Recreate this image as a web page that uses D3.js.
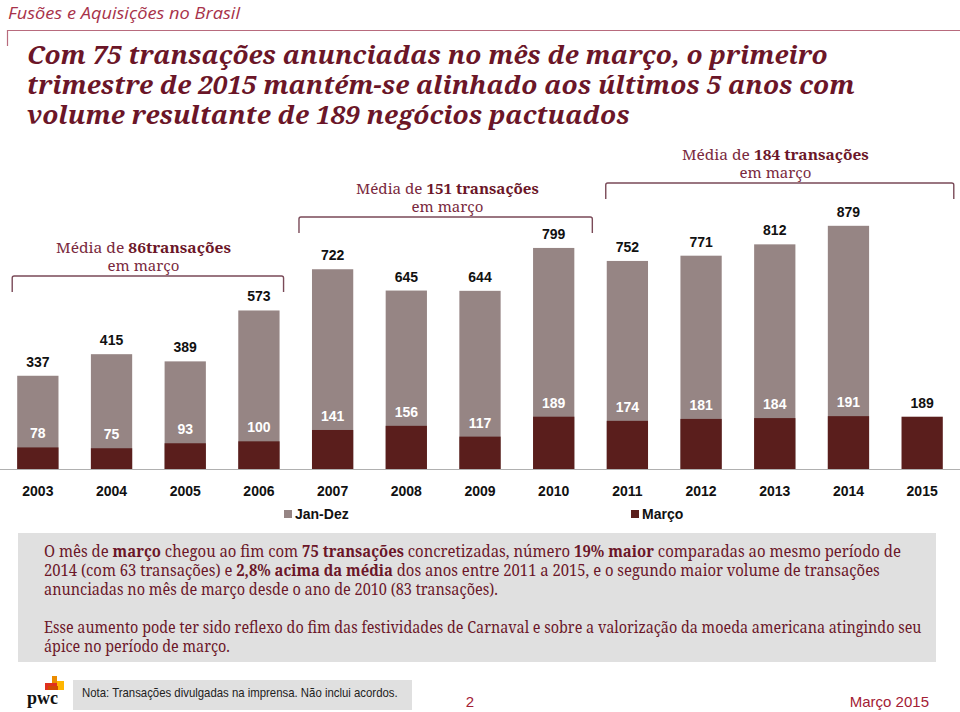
<!DOCTYPE html>
<html><head><meta charset="utf-8">
<script src="https://cdn.jsdelivr.net/npm/d3@7"></script>
<style>
html,body{margin:0;padding:0;background:#fff;}
svg{display:block;}
.serif{font-family:"Noto Serif","Liberation Serif",serif;}
</style></head>
<body>
<svg id="chart" width="960" height="712"></svg>
<script>
const years = ["2003","2004","2005","2006","2007","2008","2009","2010","2011","2012","2013","2014","2015"];
const janDez = [337,415,389,573,722,645,644,799,752,771,812,879,null];
const marco = [78,75,93,100,141,156,117,189,174,181,184,191,189];
const seriesNames = ["Jan-Dez","Março"];
const groupStart = ["2003","2007","2011"];
const groupEnd = ["2006","2010","2015"];
const groupAvg = ["86","151","184"];
const groupAvgSuffix = ["transações"," transações"," transações"];

const svg = d3.select("#chart");
const C = {gray:"#968584", dark:"#5a1e1c", maroon:"#6b1628", title:"#6b1628", header:"#a8324a"};

function fitX(sel, x, y, target){
  const w = sel.node().getComputedTextLength();
  const s = target / w;
  sel.attr("x",0).attr("y",0).attr("transform",`translate(${x},${y}) scale(${s},1)`);
}

// Header
const hdr = svg.append("text").attr("font-family","Open Sans").attr("font-style","italic")
  .attr("font-size",17).attr("fill",C.header).text("Fusões e Aquisições no Brasil");
fitX(hdr, 8, 19, 232);
svg.append("path").attr("d","M7.5,46 V30.5 H960").attr("fill","none").attr("stroke","#b86b7d").attr("stroke-width",1.2);

// Title
const titleLines = ["Com 75 transações anunciadas no mês de março, o primeiro",
  "trimestre de 2015 mantém-se alinhado aos últimos 5 anos com",
  "volume resultante de 189 negócios pactuados"];
const titleW = [801, 828, 603];
const titleY = [64, 94, 124];
titleLines.forEach((t,i)=>{
  const el = svg.append("text").attr("class","serif").attr("font-weight","bold")
    .attr("font-style","italic").attr("font-size",25).attr("fill",C.title).text(t);
  fitX(el, 27, titleY[i], titleW[i]);
});

// Scales
const x = d3.scaleBand().domain(years).range([1,959]).paddingInner(0.44).paddingOuter(0.22);
const y = d3.scaleLinear().domain([0,900]).range([469,220]);
const bw = x.bandwidth();

const data = years.map((yr,i)=>({year:yr, jd:janDez[i], m:marco[i]}));

const g = svg.append("g");
g.selectAll("rect.jd").data(data.filter(d=>d.jd!=null)).join("rect")
  .attr("x",d=>x(d.year)).attr("width",bw)
  .attr("y",d=>y(d.jd)).attr("height",d=>y(0)-y(d.jd)).attr("fill",C.gray);
g.selectAll("rect.m").data(data).join("rect")
  .attr("x",d=>x(d.year)).attr("width",bw)
  .attr("y",d=>y(d.m)).attr("height",d=>y(0)-y(d.m)).attr("fill",C.dark);

const lblFont = "Liberation Sans";
g.selectAll("text.jd").data(data.filter(d=>d.jd!=null)).join("text")
  .attr("x",d=>x(d.year)+bw/2).attr("y",d=>y(d.jd)-9)
  .attr("text-anchor","middle").attr("font-family",lblFont).attr("font-weight","bold")
  .attr("font-size",14).attr("fill","#111").text(d=>d.jd);
g.selectAll("text.m").data(data).join("text")
  .attr("x",d=>x(d.year)+bw/2).attr("y",d=>y(d.m)-9)
  .attr("text-anchor","middle").attr("font-family",lblFont).attr("font-weight","bold")
  .attr("font-size",14).attr("fill",d=>d.jd==null?"#111":"#fff").text(d=>d.m);

// Axis
const axis = d3.axisBottom(x).tickSize(0).tickPadding(17);
const ax = svg.append("g").attr("transform",`translate(0,${y(0)})`).call(axis);
ax.select(".domain").remove();
svg.append("line").attr("x1",0).attr("x2",960).attr("y1",y(0)+0.5).attr("y2",y(0)+0.5).attr("stroke","#b0b0b0").attr("stroke-width",1.2);
ax.selectAll("text").attr("font-family",lblFont).attr("font-weight","bold").attr("font-size",14).attr("fill","#111");

// Legend
const legX = [284, 631];
seriesNames.forEach((n,i)=>{
  svg.append("rect").attr("x",legX[i]).attr("y",510).attr("width",8).attr("height",8).attr("fill",i?C.dark:C.gray);
  svg.append("text").attr("x",legX[i]+11).attr("y",519).attr("font-family",lblFont).attr("font-weight","bold")
    .attr("font-size",14).attr("fill","#111").text(n);
});

// Brackets
const brOff = [[-5,4],[-13,18],[-1,11]];
const brY = [276, 217, 183];
const txtCx = [143.5, 447.5, 775.5];
const txtW = [175, 183, 187];
groupStart.forEach((s,i)=>{
  const x1 = x(s)+brOff[i][0], x2 = x(groupEnd[i])+bw+brOff[i][1];
  const yy = brY[i];
  svg.append("path").attr("d",`M${x1},${yy+16} V${yy+2} Q${x1},${yy} ${x1+2},${yy} H${x2-2} Q${x2},${yy} ${x2},${yy+2} V${yy+16}`)
    .attr("fill","none").attr("stroke","#7a4a58").attr("stroke-width",1.4);
  const t = svg.append("text").attr("class","serif").attr("font-size",15).attr("fill","#7a2a40");
  t.append("tspan").text("Média de ");
  t.append("tspan").attr("font-weight","bold").attr("fill",C.maroon).text(groupAvg[i]+groupAvgSuffix[i]);
  const w = t.node().getComputedTextLength();
  const sc = txtW[i]/w;
  t.attr("x",0).attr("y",0).attr("transform",`translate(${txtCx[i]-txtW[i]/2},${yy-23}) scale(${sc},1)`);
  svg.append("text").attr("x",txtCx[i]).attr("y",yy-5).attr("text-anchor","middle")
    .attr("class","serif").attr("font-size",15).attr("fill","#7a2a40").text("em março");
});

// Text box
svg.append("rect").attr("x",18).attr("y",533).attr("width",918).attr("height",129).attr("fill","#e0e0e0");
const para = [
  [["O mês de ",0],["março",1],[" chegou ao fim com ",0],["75 transações",1],[" concretizadas, número ",0],["19% maior",1],[" comparadas ao  mesmo período de",0]],
  [["2014 (com 63 transações) e ",0],["2,8% acima da média",1],[" dos anos entre 2011 a 2015, e o segundo maior volume de transações",0]],
  [["anunciadas no mês de março desde o ano de 2010 (83 transações).",0]],
  [["Esse aumento pode ter sido reflexo do fim das festividades de Carnaval e sobre a valorização da moeda americana atingindo seu",0]],
  [["ápice no período de março.",0]]
];
const paraY = [557, 576, 595, 633, 652];
const paraW = [858, 836, 454, 878, 186];
para.forEach((line,i)=>{
  const t = svg.append("text").attr("class","serif").attr("font-size",15.5).attr("fill","#6b1628");
  line.forEach(([s,b])=>{ const sp=t.append("tspan").text(s); if(b) sp.attr("font-weight","bold"); });
  fitX(t, 44, paraY[i], paraW[i]);
});

// Footer
const logo = svg.append("g");
logo.append("rect").attr("x",52).attr("y",676).attr("width",5).attr("height",10).attr("fill","#eb8c00");
logo.append("rect").attr("x",45).attr("y",683).attr("width",12).attr("height",7).attr("fill","#e0301e");
logo.append("rect").attr("x",57).attr("y",681).attr("width",7).attr("height",9).attr("fill","#ffb600");
logo.append("rect").attr("x",48).attr("y",686).attr("width",10).attr("height",4).attr("fill","#d04a02");
svg.append("text").attr("x",27).attr("y",704).attr("font-family","Liberation Serif").attr("font-weight","bold")
  .attr("font-size",18).attr("fill","#111").text("pwc");
svg.append("rect").attr("x",73).attr("y",680).attr("width",339).attr("height",30).attr("fill","#e0e0e0");
const nota = svg.append("text").attr("font-family","Liberation Sans").attr("font-size",12).attr("fill","#222")
  .text("Nota: Transações divulgadas na imprensa. Não inclui acordos.");
fitX(nota, 82, 697, 316);
svg.append("text").attr("x",470).attr("y",707).attr("text-anchor","middle").attr("font-family","Liberation Sans")
  .attr("font-size",15).attr("fill","#a32035").text("2");
svg.append("text").attr("x",929).attr("y",707).attr("text-anchor","end").attr("font-family","Liberation Sans")
  .attr("font-size",15).attr("fill","#a32035").text("Março 2015");
</script>
</body></html>
